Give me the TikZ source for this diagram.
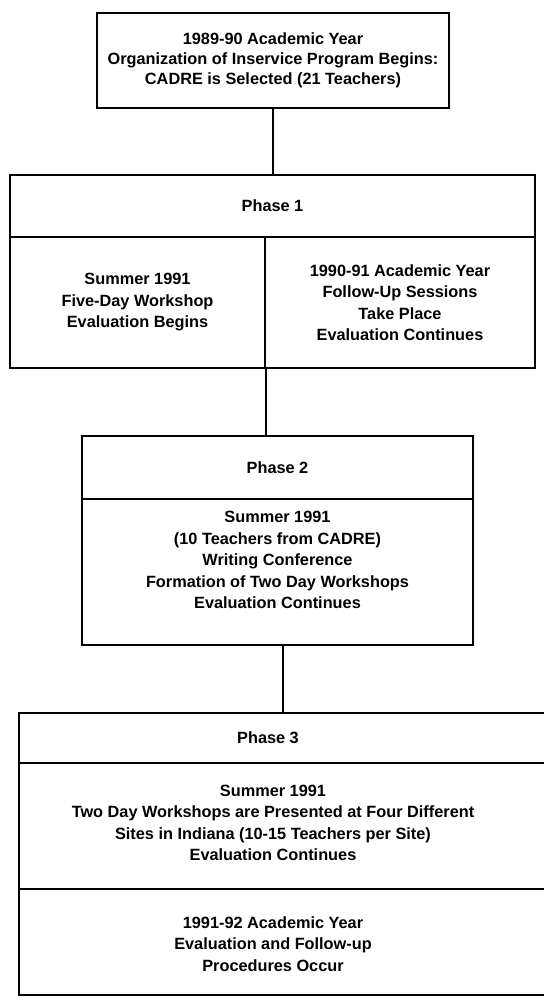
\documentclass[tikz,border=0pt]{standalone}
\usepackage{fontspec}
\setmainfont{Liberation Sans}
\begin{document}
\begin{tikzpicture}[x=1pt,y=-1pt,
  frame/.style={draw, line width=1.7pt, rectangle, inner sep=0pt,
    font=\bfseries\fontsize{16.3}{21.5}\selectfont, align=center},
  txt/.style={inner sep=0pt, font=\bfseries\fontsize{16.3}{21.5}\selectfont, align=center},
  link/.style={line width=1.7pt}]
\useasboundingbox (0,0) rectangle (544,1000);

% organisation of the programme
\node[frame, minimum width=352pt, minimum height=95pt,
  font=\bfseries\fontsize{16.3}{20}\selectfont] (top) at (273,60.5)
  {1989-90 Academic Year\\Organization of Inservice Program Begins:\\CADRE is Selected (21 Teachers)};

% phase 1
\node[frame, minimum width=525pt, minimum height=62pt] (p1h) at (272.5,206) {Phase 1};
\node[frame, minimum width=255pt, minimum height=131pt] (p1l) at (137.5,302.5)
  {Summer 1991\\Five-Day Workshop\\Evaluation Begins};
\node[frame, minimum width=270pt, minimum height=131pt] (p1r) at (400,302.5)
  {1990-91 Academic Year\\Follow-Up Sessions\\Take Place\\Evaluation Continues};

% phase 2
\node[frame, minimum width=391pt, minimum height=63pt] (p2h) at (277.5,467.5) {Phase 2};
\node[frame, minimum width=391pt, minimum height=146pt] (p2b) at (277.5,572) {};
\node[txt] (p2t) at (277.5,560)
  {Summer 1991\\(10 Teachers from CADRE)\\Writing Conference\\Formation of Two Day Workshops\\Evaluation Continues};

% phase 3 (frame runs past the right edge)
\coordinate (p3top) at (283,713);
\draw[link] (544,713) -- (19,713) -- (19,995) -- (544,995);
\draw[link] (19,763) -- (544,763);
\draw[link] (19,889) -- (544,889);
\node[txt] (p3h) at (268,738) {Phase 3};
\node[txt] (p3a) at (273,823)
  {Summer 1991\\Two Day Workshops are Presented at Four Different\\Sites in Indiana (10-15 Teachers per Site)\\Evaluation Continues};
\node[txt] (p3b) at (273,944)
  {1991-92 Academic Year\\Evaluation and Follow-up\\Procedures Occur};

% connectors
\draw[link] (top.south) -- (top.south |- p1h.north);
\draw[link] (p1l.south east) -- (p1l.south east |- p2h.north);
\draw[link] (p2b.south -| p3top) -- (p3top);
\end{tikzpicture}
\end{document}
